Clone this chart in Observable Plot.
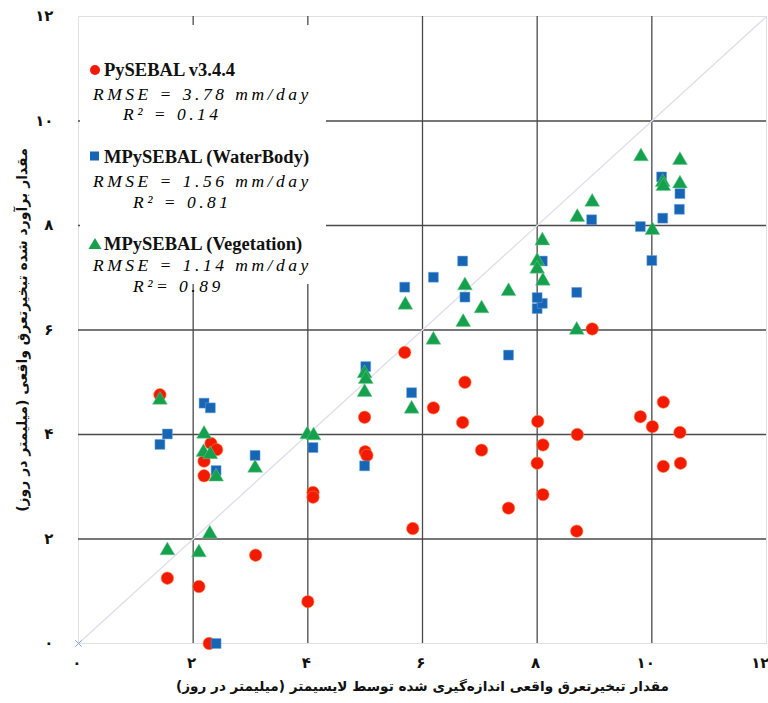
<!DOCTYPE html>
<html>
<head>
<meta charset="utf-8">
<script src="https://cdn.jsdelivr.net/npm/d3@7"></script>
<script src="https://cdn.jsdelivr.net/npm/@observablehq/plot@0.6"></script>
<style>
  body { margin: 0; background: #fff; }
  #wrap { position: relative; width: 768px; height: 703px; }
  #legend { position: absolute; left: 0; top: 0; pointer-events: none; }
</style>
</head>
<body>
<div id="wrap"></div>
<script>
// ---- data ----
const axisTicks = [0, 2, 4, 6, 8, 10, 12];
const gridTicks = [2, 4, 6, 8, 10];
const oneToOne = [0, 12];

const xLabel = "مقدار تبخیرتعرق واقعی اندازه‌گیری شده توسط لایسیمتر (میلیمتر در روز)";
const yLabel = "مقدار برآورد شده تبخیرتعرق واقعی (میلیمتر در روز)";

const seriesNames = ["PySEBAL v3.4.4", "MPySEBAL (WaterBody)", "MPySEBAL (Vegetation)"];
const seriesRMSE = ["RMSE = 3.78 mm/day", "RMSE = 1.56 mm/day", "RMSE = 1.14 mm/day"];
const seriesR2 = ["R² = 0.14", "R² = 0.81", "R²= 0.89"];

const pysebalX = [1.42,1.55,2.10,2.19,2.19,2.31,2.41,2.28,3.09,4.00,4.09,4.09,4.99,5.00,5.03,5.69,5.83,6.19,6.70,6.74,7.03,7.50,8.01,8.10,8.00,8.10,8.70,8.69,8.96,9.80,10.01,10.20,10.49,10.20,10.50];
const pysebalY = [4.76,1.25,1.09,3.49,3.21,3.83,3.71,0.00,1.69,0.80,2.89,2.80,4.33,3.67,3.60,5.57,2.20,4.51,4.23,5.00,3.70,2.59,4.25,3.80,3.45,2.85,4.00,2.15,6.02,4.34,4.15,4.62,4.04,3.39,3.45];

const waterX = [1.42,1.55,2.19,2.30,2.40,2.40,3.08,4.09,5.01,4.99,5.81,7.50,8.00,8.09,8.00,8.09,5.69,6.19,6.70,6.74,8.69,8.95,9.80,10.00,10.19,10.17,10.49,10.48];
const waterY = [3.81,4.01,4.60,4.51,3.31,0.00,3.60,3.75,5.30,3.40,4.80,5.52,6.41,6.51,6.62,7.32,6.82,7.01,7.32,6.63,6.72,8.11,7.98,7.33,8.14,8.93,8.61,8.31];

const vegX = [1.42,1.55,2.10,2.29,2.19,2.18,2.30,2.40,3.08,3.99,4.10,4.99,5.01,4.99,5.81,5.70,6.19,6.71,6.74,7.03,7.50,8.00,8.00,8.10,8.09,8.69,8.70,8.96,9.81,10.01,10.19,10.20,10.49,10.49];
const vegY = [4.66,1.78,1.74,2.10,4.01,3.66,3.62,3.19,3.36,4.00,3.98,5.17,5.06,4.81,4.49,6.48,5.81,6.15,6.85,6.41,6.74,7.32,7.17,6.94,7.71,6.00,8.16,8.45,9.32,7.91,8.83,8.75,9.25,8.80];

const colors = ["#f21a00", "#1765b5", "#14a04c"];

// ---- helpers ----
const fa = n => String(n).replace(/\d/g, d => "۰۱۲۳۴۵۶۷۸۹"[d]);
const pts = (xs, ys) => xs.map((x, i) => ({x, y: ys[i]}));
const diag = oneToOne.map(v => ({x: v, y: v}));

const chart = Plot.plot({
  width: 768,
  height: 703,
  marginLeft: 78,
  marginRight: 2,
  marginTop: 16,
  marginBottom: 60,
  x: {domain: [0, 12], axis: null},
  y: {domain: [0, 12]},
  style: {fontFamily: "DejaVu Sans", background: "white", color: "#111"},
  marks: [
    Plot.frame({stroke: "#e0e0e0", strokeWidth: 1}),
    Plot.gridX(gridTicks, {stroke: "#4a4a4a", strokeOpacity: 1, strokeWidth: 1.3}),
    Plot.gridY(gridTicks, {stroke: "#4a4a4a", strokeOpacity: 1, strokeWidth: 1.3}),
    Plot.line(diag, {x: "x", y: "y", stroke: "#dfe0ea", strokeWidth: 1.4}),
    Plot.dot(diag.slice(0, 1), {x: "x", y: "y", symbol: "times", r: 3, stroke: "#8aa2d4", strokeWidth: 1}),
    Plot.text(axisTicks, {x: d => d, text: fa, frameAnchor: "bottom", dy: 24, dx: 3, textAnchor: "end", fontSize: 15, fontWeight: "bold", fill: "#111", ariaLabel: "x-tick"}),
    Plot.axisY(axisTicks, {tickSize: 0, tickPadding: 25, tickFormat: fa, fontSize: 15, label: null}),
    Plot.text([xLabel], {text: d => d, frameAnchor: "bottom", dy: 47, fontSize: 13.6, fontWeight: "bold", fill: "#111", ariaLabel: "fa-label"}),
    Plot.text([yLabel], {text: d => d, frameAnchor: "left", textAnchor: "middle", dx: -56, rotate: -90, fontSize: 14, fontWeight: "bold", fill: "#111", ariaLabel: "fa-label"}),
    Plot.dot(pts(pysebalX, pysebalY), {x: "x", y: "y", symbol: "circle", r: 6.2, fill: colors[0], stroke: "#ff7a3a", strokeWidth: 0.6}),
    Plot.dot(pts(waterX, waterY), {x: "x", y: "y", symbol: "square", r: 5.6, fill: colors[1], stroke: "#6aa0e0", strokeWidth: 0.5}),
    Plot.dot(pts(vegX, vegY), {x: "x", y: "y", symbol: "triangle", r: 5.5, fill: colors[2], stroke: "#6acb8e", strokeWidth: 0.5})
  ]
});

d3.select(chart).selectAll('g[aria-label="fa-label"] text').attr("direction", "rtl");
d3.select(chart).selectAll('g[aria-label="y-axis tick label"]').attr("font-weight", "bold");

const wrap = document.getElementById("wrap");
wrap.appendChild(chart);

// ---- legend overlay (box with text) ----
const lg = d3.select(wrap).append("svg")
  .attr("id", "legend").attr("width", 768).attr("height", 703)
  .style("font-family", "'Liberation Serif', 'Times New Roman', serif");

lg.append("rect").attr("x", 80).attr("y", 25).attr("width", 246).attr("height", 259).attr("fill", "white");

const blocks = [
  {t: 76, r: 100, q: 120, sym: "circle", sy: 70},
  {t: 163, r: 187, q: 208, sym: "square", sy: 156},
  {t: 250, r: 271, q: 292, sym: "triangle", sy: 244}
];
blocks.forEach((b, i) => {
  const g = lg.append("g");
  if (b.sym === "circle") g.append("circle").attr("cx", 95).attr("cy", b.sy).attr("r", 5).attr("fill", colors[0]);
  if (b.sym === "square") g.append("rect").attr("x", 90).attr("y", b.sy - 4.5).attr("width", 9).attr("height", 9).attr("fill", colors[1]);
  if (b.sym === "triangle") g.append("path").attr("d", `M${95},${b.sy - 6} L${101.5},${b.sy + 5} L${88.5},${b.sy + 5} Z`).attr("fill", colors[2]);
  g.append("text").attr("x", 104).attr("y", b.t).attr("font-size", 18.5).attr("font-weight", "bold").attr("fill", "#111").text(seriesNames[i]);
  g.append("text").attr("x", 93).attr("y", b.r).attr("font-size", 17.5).attr("font-style", "italic").attr("letter-spacing", 3.5).attr("fill", "#000").text(seriesRMSE[i]);
  g.append("text").attr("x", i === 0 ? 123 : 133).attr("y", b.q).attr("font-size", 17.5).attr("font-style", "italic").attr("letter-spacing", 3.5).attr("fill", "#000").text(seriesR2[i]);
});
</script>
</body>
</html>
